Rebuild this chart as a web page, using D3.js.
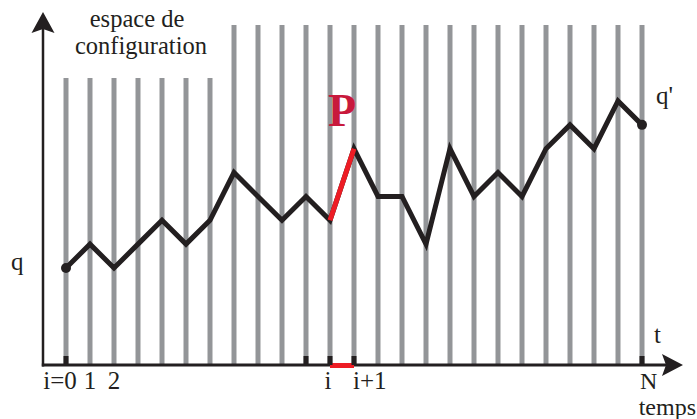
<!DOCTYPE html>
<html>
<head>
<meta charset="utf-8">
<script src="https://cdn.jsdelivr.net/npm/d3@7/dist/d3.min.js"></script>
<style>
  html, body { margin: 0; padding: 0; background: #fff; }
  svg { display: block; }
</style>
</head>
<body>
<svg id="chart" width="697" height="419"></svg>
<script>
// ---- data ----
const timeSteps = [0,1,2,3,4,5,6,7,8,9,10,11,12,13,14,15,16,17,18,19,20,21,22,23,24];
const levels    = [0,1,0,1,2,1,2,4,3,2,3,2,5,3,3,1,5,3,4,3,5,6,5,7,6];
const shortSteps = [0,1,2,3,4,5,6];            // bars under the "espace de configuration" label
const markSteps  = [0,10,11,12,24];            // black tick marks on the time axis
const labelSteps = [0,1,2,11,12,24];
const labelTexts = ["i=0","1","2","i","i+1","N"];
const highlight  = [11,12];                    // the step i -> i+1 (segment P)

// ---- layout ----
const FONT = "'Liberation Serif', 'Times New Roman', Times, 'DejaVu Serif', serif";
const svg = d3.select("#chart");
const x = d3.scaleLinear().domain([0,24]).range([66,642]);
const y = d3.scaleLinear().domain([0,7]).range([268,101]);
const axisY = 365, axisX = 43;
const ink = "#231f20", grey = "#939598", red = "#ed1c24";

// grey vertical bars
svg.append("g").selectAll("rect").data(timeSteps).join("rect")
  .attr("x", d => x(d) - 2.5)
  .attr("width", 5)
  .attr("y", d => shortSteps.includes(d) ? 78 : 25)
  .attr("height", d => axisY - (shortSteps.includes(d) ? 78 : 25))
  .attr("fill", grey);

// axes
svg.append("line").attr("x1", axisX).attr("x2", axisX).attr("y1", axisY + 1.5).attr("y2", 28)
  .attr("stroke", ink).attr("stroke-width", 2.5);
svg.append("line").attr("x1", axisX - 1.2).attr("x2", 668).attr("y1", axisY).attr("y2", axisY)
  .attr("stroke", ink).attr("stroke-width", 3);
// arrow heads
svg.append("path")
  .attr("d", `M${axisX},12 L${axisX + 11.5},33 L${axisX},29 L${axisX - 11.5},33 Z`)
  .attr("fill", ink);
svg.append("path")
  .attr("d", `M683,${axisY} L662,${axisY - 11} L666,${axisY} L662,${axisY + 11} Z`)
  .attr("fill", ink);

// red interval on time axis
svg.append("rect")
  .attr("x", x(highlight[0])).attr("width", x(highlight[1]) - x(highlight[0]))
  .attr("y", axisY - 2).attr("height", 5).attr("fill", red);

// black tick marks
svg.append("g").selectAll("rect").data(markSteps).join("rect")
  .attr("x", d => x(d) - 2.5).attr("width", 5)
  .attr("y", axisY - 9).attr("height", 9).attr("fill", ink);

// trajectory
const pts = timeSteps.map((t, k) => [x(t), y(levels[k])]);
svg.append("path")
  .attr("d", d3.line()(pts))
  .attr("fill", "none").attr("stroke", ink).attr("stroke-width", 5)
  .attr("stroke-linejoin", "miter").attr("stroke-miterlimit", 10);
svg.append("path")
  .attr("d", d3.line()([pts[highlight[0]], pts[highlight[1]]]))
  .attr("fill", "none").attr("stroke", red).attr("stroke-width", 5);

// end points
svg.append("g").selectAll("circle").data([0, timeSteps.length - 1]).join("circle")
  .attr("cx", k => pts[k][0]).attr("cy", k => pts[k][1]).attr("r", 5).attr("fill", ink);

// labels
const fs = 25;
const txt = svg.append("g").attr("font-family", FONT).attr("fill", ink).attr("font-size", fs);
txt.append("text").attr("x", 137).attr("y", 27).attr("text-anchor", "middle")
  .attr("font-size", 24.5).text("espace de");
txt.append("text").attr("x", 141).attr("y", 54).attr("text-anchor", "middle")
  .attr("font-size", 24.5).text("configuration");
txt.append("text").attr("x", 11).attr("y", 270).text("q");
txt.append("text").attr("x", 656).attr("y", 104).text("q'");
txt.append("text").attr("x", 654).attr("y", 343).text("t");
txt.append("text").attr("x", 696).attr("y", 414.5).attr("text-anchor", "end")
  .attr("font-size", 24).text("temps");

const labelDx = [-6, 0, 0, -2, -1, -2];
const labelAnchor = ["middle", "middle", "middle", "middle", "start", "start"];
txt.append("g").selectAll("text").data(labelSteps).join("text")
  .attr("x", (d, k) => x(d) + labelDx[k])
  .attr("y", (d, k) => k === labelSteps.length - 1 ? 388.5 : 389)
  .attr("font-size", (d, k) => k === labelSteps.length - 1 ? 24 : fs)
  .attr("text-anchor", (d, k) => labelAnchor[k])
  .text((d, k) => labelTexts[k]);

// P label above the highlighted segment
txt.append("text")
  .attr("x", (x(highlight[0]) + x(highlight[1])) / 2)
  .attr("y", 126)
  .attr("text-anchor", "middle")
  .attr("font-size", 46).attr("font-weight", "bold")
  .attr("fill", "#c8193c")
  .text("P");
</script>
</body>
</html>
